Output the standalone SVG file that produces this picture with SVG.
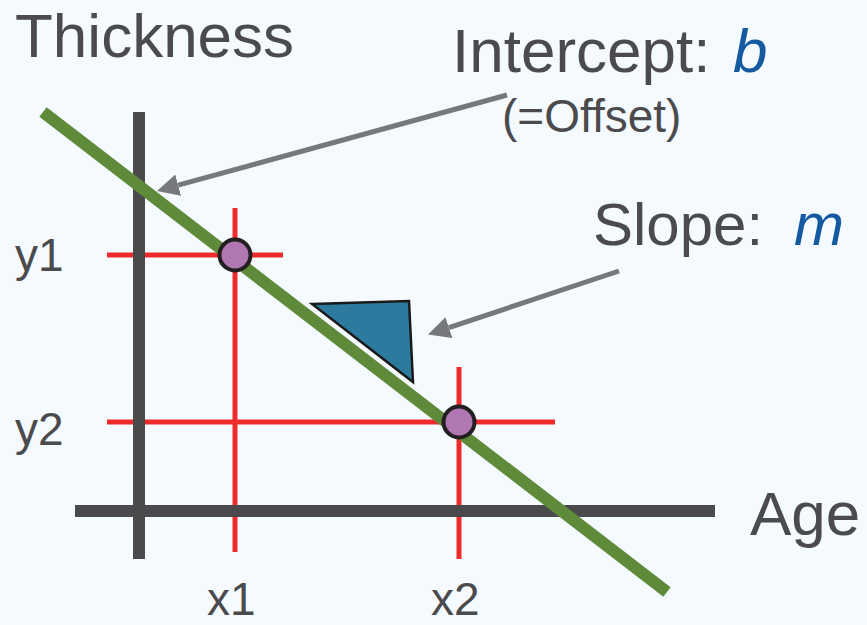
<svg xmlns="http://www.w3.org/2000/svg" width="867" height="625" viewBox="0 0 867 625">
<defs>
<style>
.t{font-family:"Liberation Sans",Arial,sans-serif;fill:#4b4b4d}
.v{fill:#1559a0;font-style:italic}
.axis{stroke:#4a4a4d;stroke-width:12;fill:none}
.red{stroke:#ee2a2a;stroke-width:5;fill:none}
.pt{fill:#b077b3;stroke:#231f20;stroke-width:4}
.arr{stroke:#77787b;stroke-width:5;fill:none}
</style>
<marker id="ah" markerUnits="userSpaceOnUse" viewBox="0 0 22 22" markerWidth="22" markerHeight="22" refX="0" refY="11" orient="auto">
<path d="M0,0 L22,11 L0,22 z" fill="#77787b"/>
</marker>
</defs>
<rect width="867" height="625" fill="#f5fafe"/>
<g id="guides">
<line class="red" x1="107" y1="255" x2="283" y2="255"/>
<line class="red" x1="235" y1="208" x2="235" y2="552"/>
<line class="red" x1="107" y1="422" x2="555" y2="422"/>
<line class="red" x1="459" y1="367" x2="459" y2="559"/>
</g>
<g id="axes">
<line class="axis" x1="75" y1="511" x2="715" y2="511"/>
<line class="axis" x1="139" y1="112" x2="139" y2="559"/>
</g>
<g id="fit-line">
<line x1="43" y1="112" x2="667" y2="592" stroke="#5e8a3a" stroke-width="12"/>
</g>
<g id="slope-triangle">
<polygon points="312,304 409,301 413,382" fill="#2c7a9e" stroke="#1a1a1a" stroke-width="2.5" stroke-linejoin="miter"/>
</g>
<g id="point1"><circle class="pt" cx="235" cy="255" r="15.5"/></g>
<g id="point2"><circle class="pt" cx="459" cy="422" r="15.5"/></g>
<g id="connectors">
<line class="arr" x1="507" y1="95" x2="178.2" y2="185.2" marker-end="url(#ah)"/>
<line class="arr" x1="619" y1="271" x2="448.9" y2="327.6" marker-end="url(#ah)"/>
</g>
<g id="labels">
<text class="t" x="15" y="57" font-size="62">Thickness</text>
<text class="t" x="452" y="72" font-size="62">Intercept: <tspan class="v" x="733">b</tspan></text>
<text class="t" x="502" y="132" font-size="46">(=Offset)</text>
<text class="t" x="593" y="245" font-size="60">Slope: <tspan class="v" x="794">m</tspan></text>
<text class="t" x="15" y="271" font-size="46">y1</text>
<text class="t" x="15" y="445" font-size="46">y2</text>
<text class="t" x="207" y="615" font-size="46">x1</text>
<text class="t" x="431" y="615" font-size="46">x2</text>
<text class="t" x="750" y="535" font-size="62">Age</text>
</g>
</svg>
